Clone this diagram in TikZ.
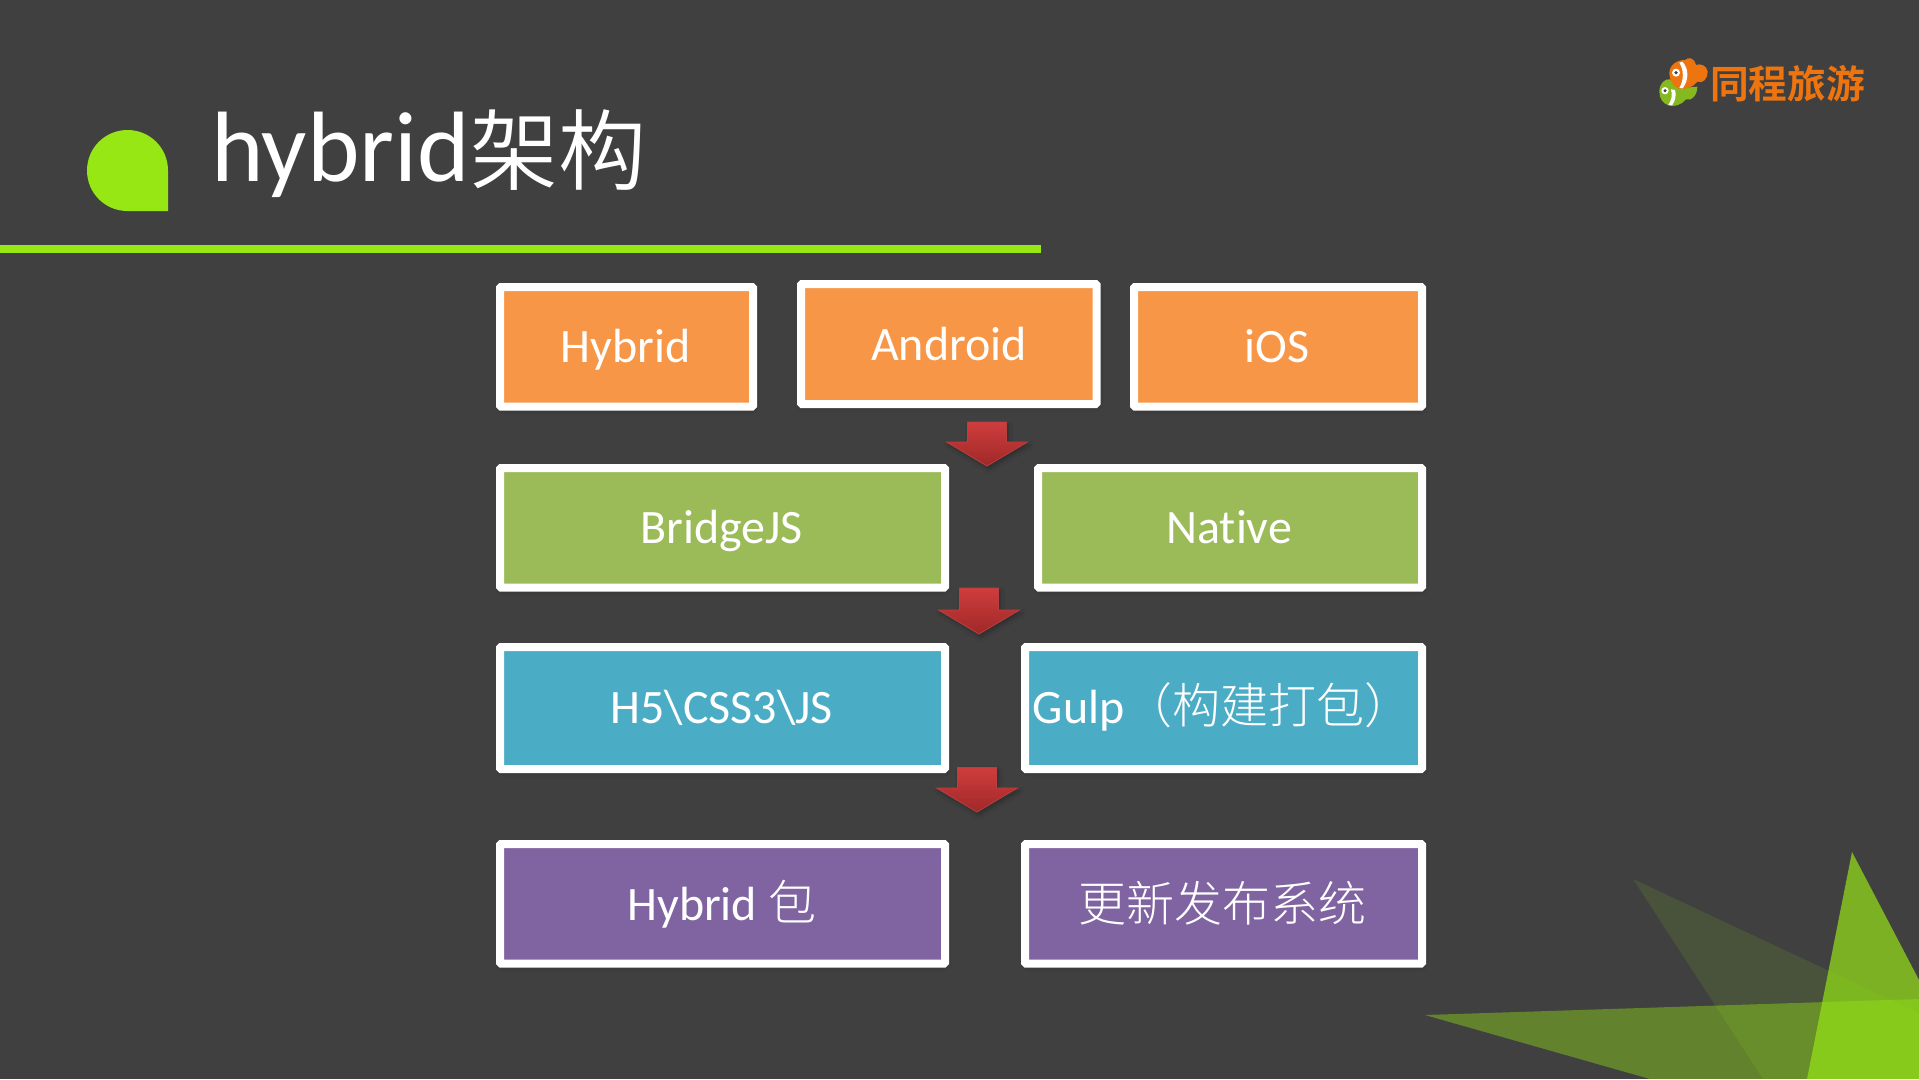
\documentclass[tikz,border=0pt]{standalone}
\usepackage{fontspec}
\usetikzlibrary{shadows.blur}
\setmainfont[Ligatures=NoCommon]{Carlito}
\newfontfamily\cjk{Noto Sans CJK SC Bold}
\newfontfamily\cjkreg{Noto Sans CJK SC DemiLight}
\newfontfamily\cjklight{Noto Sans CJK SC Light}
\definecolor{bgc}{HTML}{404040}
\definecolor{lime}{HTML}{97E714}
\definecolor{orangefill}{HTML}{F79646}
\definecolor{greenfill}{HTML}{9BBB59}
\definecolor{bluefill}{HTML}{4BACC6}
\definecolor{purplefill}{HTML}{8064A2}
\definecolor{logoorange}{HTML}{EE7410}
\definecolor{logogreen}{HTML}{86B81F}
\definecolor{arrtop}{HTML}{CF3D3D}
\definecolor{arrbot}{HTML}{A02828}
\definecolor{arrrim}{HTML}{B84040}
\tikzset{
  layerbox/.style={draw=white,line width=8pt,rounded corners=1pt,inner sep=0pt,blur shadow={shadow blur steps=8,shadow xshift=1pt,shadow yshift=-2pt,shadow blur radius=5pt,shadow opacity=35}},
  layertext/.style={anchor=base,text=white,font=\fontsize{48}{54}\selectfont,inner sep=0pt},
  redblock/.style={draw=arrrim,line width=.8pt,top color=arrtop,bottom color=arrbot,blur shadow={shadow blur steps=6,shadow xshift=2pt,shadow yshift=-3pt,shadow blur radius=4pt,shadow opacity=30}},
}
\newcommand{\layer}[8]{% name, fill, x0,y0,x1,y1, baseline offset, text
  \pgfmathsetmacro{\boxw}{#5-#3-8}\pgfmathsetmacro{\boxh}{#6-#4-8}
  \node[layerbox,fill=#2,minimum width=\boxw pt,minimum height=\boxh pt] (#1) at ({(#3+#5)/2},{(#4+#6)/2}) {};
  \node[layertext] (#1text) at ([xshift=-0.8pt,yshift=-#7pt]#1.center) {#8};
}
\newcommand{\redarrow}[2]{%
  \path[redblock]
  ([shift={(-19.5,-#2)}]#1) -- ([shift={(19.5,-#2)}]#1) -- ([shift={(19.5,-24)}]#1) -- ([shift={(40.5,-24)}]#1) -- (#1) -- ([shift={(-40.5,-24)}]#1) -- ([shift={(-19.5,-24)}]#1) -- cycle;
}
\begin{document}
\begin{tikzpicture}[x=1pt,y=-1pt]
\useasboundingbox (0,0) rectangle (1919,1079);
\fill[bgc] (0,0) rectangle (1919,1079);
% title bar
\fill[lime] (87,170.5) .. controls (87,148) and (105,130) .. (127.5,130) .. controls (150,130) and (168,148) .. (168,170.5) -- (168,211) -- (127.5,211) .. controls (105,211) and (87,193) .. (87,170.5) -- cycle;
\fill[lime] (0,244.5) rectangle (1040.5,253);
\node[anchor=base west,inner sep=0pt,text=white,font=\fontsize{100}{106}\selectfont] (title) at (211,181) {hybrid\fontsize{88}{100}\selectfont\cjkreg\raisebox{-2pt}{架构}};
% triangles
\fill[lime,opacity=.11] (1633,879) -- (1919,1013) -- (1919,1079) -- (1763,1079) -- cycle;
\fill[lime,opacity=.40] (1425,1015) -- (1919,999) -- (1919,1079) -- (1650,1079) -- cycle;
\fill[lime,opacity=.68] (1852,852) -- (1919,980) -- (1919,1079) -- (1807,1079) -- cycle;
% boxes
\layer{hybrid}{orangefill}{496}{283}{757}{410.5}{16}{Hybrid}
\layer{android}{orangefill}{797}{280}{1100.5}{408}{16}{\hspace{2pt}Android}
\layer{ios}{orangefill}{1130}{283}{1426}{410.5}{16}{iOS}
\layer{bridge}{greenfill}{496}{464}{949}{591.5}{16}{BridgeJS}
\layer{native}{greenfill}{1034}{464}{1426}{591.5}{16}{Native}
\layer{h5}{bluefill}{496}{643}{949}{773}{15}{H5\textbackslash CSS3\textbackslash JS}
\layer{gulp}{bluefill}{1021}{643}{1426}{773}{15}{Gulp{\cjklight （构建打包）}}
\layer{pkg}{purplefill}{496}{840}{949}{967.5}{17}{Hybrid {\cjklight 包}}
\layer{update}{purplefill}{1021}{840}{1426}{967.5}{18}{{\cjklight 更新发布系统}}
% arrows
\coordinate (a1) at (987,466);
\coordinate (a2) at (979,634);
\coordinate (a3) at (977,812);
\redarrow{a1}{44}
\redarrow{a2}{46}
\redarrow{a3}{44.5}
% logo
\begin{scope}[shift={(1620,30)},scale=1/3]
\fill[logogreen] (118,185) .. controls (118,160) and (135,145) .. (150,148) -- (175,175) -- (232,170) .. controls (232,195) and (215,215) .. (198,208) .. controls (185,225) and (160,232) .. (145,226) .. controls (128,220) and (118,205) .. (118,185) -- cycle;
\fill[white] (165,180) .. controls (170,195) and (165,215) .. (156,226) -- (145,225) .. controls (155,210) and (158,195) .. (153,178) -- cycle;
\fill[white] (135,182) circle (11);
\fill[bgc] (135,182) circle (5);
\fill[logoorange] (148,130) .. controls (148,105) and (170,90) .. (195,90) .. controls (205,80) and (222,82) .. (228,105) .. controls (240,100) and (260,105) .. (263,125) .. controls (263,145) and (250,162) .. (232,155) .. controls (220,172) and (195,180) .. (175,175) .. controls (158,170) and (148,150) .. (148,130) -- cycle;
\fill[white] (187,95) .. controls (207,115) and (207,150) .. (188,175) -- (178,174) .. controls (192,150) and (192,120) .. (178,98) -- cycle;
\fill[white] (168,128) circle (12);
\fill[bgc] (168,128) circle (5.5);
\end{scope}
\node[anchor=west,inner sep=0pt,text=logoorange,font=\cjk\fontsize{38.7}{42}\selectfont] (logo) at (1710,84) {同程旅游};
\end{tikzpicture}
\end{document}
